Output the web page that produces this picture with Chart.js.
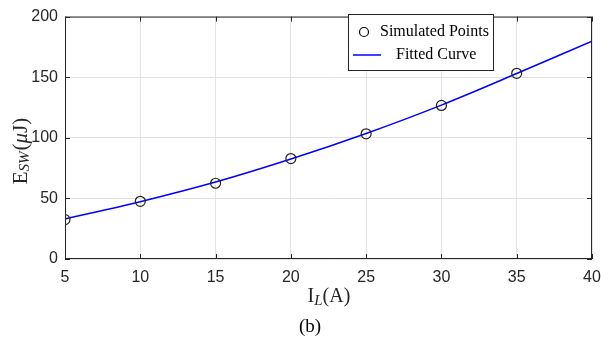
<!DOCTYPE html>
<html>
<head>
<meta charset="utf-8">
<script src="https://cdn.jsdelivr.net/npm/chart.js@4"></script>
<style>
  html, body { margin: 0; padding: 0; background: #fff; }
  #wrap { width: 613px; height: 341px; position: relative; }
</style>
</head>
<body>
<div id="wrap"><canvas id="myChart" width="613" height="341"></canvas></div>
<script>
  // Dados
  const currentA = [5, 10, 15, 20, 25, 30, 35];
  const simulated = [32.5, 47.6, 62.5, 82.9, 103.3, 126.7, 153.2];
  const fitX = [5, 10, 15, 20, 25, 30, 35, 40];
  const fitY = [33, 47.3, 63.5, 82.5, 103.6, 127, 153, 179.8];
  const xTicks = [5, 10, 15, 20, 25, 30, 35, 40];
  const yTicks = [0, 50, 100, 150, 200];

  const serif = '"Liberation Serif", "DejaVu Serif", serif';

  // desenha texto com partes (normal / itálico / subscrito)
  function drawParts(ctx, parts, x, y) {
    let cx = x;
    parts.forEach(p => {
      ctx.font = (p.italic ? 'italic ' : '') + p.size + 'px ' + serif;
      ctx.fillText(p.t, cx, y + (p.dy || 0));
      cx += ctx.measureText(p.t).width + (p.gap || 0);
    });
    return cx - x;
  }
  function measureParts(ctx, parts) {
    let w = 0;
    parts.forEach(p => {
      ctx.font = (p.italic ? 'italic ' : '') + p.size + 'px ' + serif;
      w += ctx.measureText(p.t).width + (p.gap || 0);
    });
    return w;
  }

  const matlabStyle = {
    id: 'matlabStyle',
    afterDraw(chart) {
      const ctx = chart.ctx;
      const a = chart.chartArea;
      const xs = chart.scales.x, ys = chart.scales.y;
      ctx.save();
      // caixa
      ctx.strokeStyle = '#262626';
      ctx.lineWidth = 1;
      ctx.strokeRect(a.left + 0.5, a.top + 0.5, a.right - a.left - 1, a.bottom - a.top - 1);
      // marcas internas
      ctx.beginPath();
      xTicks.forEach(v => {
        const px = Math.round(xs.getPixelForValue(v)) + 0.5;
        ctx.moveTo(px, a.bottom); ctx.lineTo(px, a.bottom - 5);
        ctx.moveTo(px, a.top); ctx.lineTo(px, a.top + 5);
      });
      yTicks.forEach(v => {
        const py = Math.round(ys.getPixelForValue(v)) + 0.5;
        ctx.moveTo(a.left, py); ctx.lineTo(a.left + 5, py);
        ctx.moveTo(a.right, py); ctx.lineTo(a.right - 5, py);
      });
      ctx.stroke();

      ctx.fillStyle = '#262626';
      ctx.textBaseline = 'middle';
      ctx.textAlign = 'left';
      // título eixo x
      const xt = [
        { t: 'I', size: 20 },
        { t: 'L', size: 15, italic: true, dy: 4 },
        { t: '(A)', size: 20 }
      ];
      const wx = measureParts(ctx, xt);
      drawParts(ctx, xt, 329 - wx / 2, 297);
      // legenda (b)
      ctx.fillStyle = '#000';
      const bt = [{ t: '(b)', size: 19 }];
      drawParts(ctx, bt, 310 - measureParts(ctx, bt) / 2, 327);

      // título eixo y
      ctx.fillStyle = '#262626';
      const yt = [
        { t: 'E', size: 21 },
        { t: 'SW', size: 15, italic: true, dy: 4, gap: 1 },
        { t: '(', size: 21 },
        { t: 'μ', size: 21, italic: true },
        { t: 'J)', size: 21 }
      ];
      const wy = measureParts(ctx, yt);
      ctx.translate(21, 151);
      ctx.rotate(-Math.PI / 2);
      drawParts(ctx, yt, -wy / 2, 0);
      ctx.setTransform(1, 0, 0, 1, 0, 0);

      // legenda
      const lx = 348, ly = 14, lw = 145, lh = 56;
      ctx.fillStyle = '#fff';
      ctx.fillRect(lx, ly, lw, lh);
      ctx.strokeStyle = '#262626';
      ctx.lineWidth = 1;
      ctx.strokeRect(lx + 0.5, ly + 0.5, lw, lh);
      ctx.strokeStyle = '#000';
      ctx.lineWidth = 1.2;
      ctx.beginPath();
      ctx.arc(364, 32, 4.5, 0, Math.PI * 2);
      ctx.stroke();
      ctx.strokeStyle = '#0000ff';
      ctx.lineWidth = 1.5;
      ctx.beginPath();
      ctx.moveTo(353, 55); ctx.lineTo(381, 55);
      ctx.stroke();
      ctx.fillStyle = '#000';
      drawParts(ctx, [{ t: 'Simulated Points', size: 16 }], 380, 32);
      drawParts(ctx, [{ t: 'Fitted Curve', size: 16 }], 396, 55);
      ctx.restore();
    }
  };

  const ctx = document.getElementById('myChart');
  const myChart = new Chart(ctx, {
    type: 'scatter',
    data: {
      datasets: [
        {
          label: 'Fitted Curve',
          data: fitX.map((x, i) => ({ x: x, y: fitY[i] })),
          showLine: true,
          borderColor: '#0000ff',
          borderWidth: 1.5,
          pointRadius: 0,
          cubicInterpolationMode: 'monotone',
          order: 2
        },
        {
          label: 'Simulated Points',
          data: currentA.map((x, i) => ({ x: x, y: simulated[i] })),
          showLine: false,
          borderColor: '#222',
          backgroundColor: 'rgba(0,0,0,0)',
          borderWidth: 1.2,
          pointRadius: 5,
          order: 1
        }
      ]
    },
    options: {
      responsive: false,
      animation: false,
      devicePixelRatio: 1,
      layout: { padding: { left: 0, right: 21, top: 8, bottom: 0 } },
      scales: {
        x: {
          type: 'linear',
          min: 5, max: 40,
          afterBuildTicks: s => { s.ticks = xTicks.map(v => ({ value: v })); },
          afterFit: s => { s.height = 82; },
          grid: { color: '#e3e3e3', drawTicks: false },
          border: { display: false },
          ticks: { color: '#262626', padding: 9, maxRotation: 0, font: { family: '"Liberation Sans", Arial, sans-serif', size: 16 } }
        },
        y: {
          min: 0, max: 200,
          afterBuildTicks: s => { s.ticks = yTicks.map(v => ({ value: v })); },
          afterFit: s => { s.width = 65; },
          grid: { color: '#e3e3e3', drawTicks: false },
          border: { display: false },
          ticks: { color: '#262626', padding: 7, font: { family: '"Liberation Sans", Arial, sans-serif', size: 16 } }
        }
      },
      plugins: {
        legend: { display: false },
        tooltip: { enabled: false }
      }
    },
    plugins: [matlabStyle]
  });
</script>
</body>
</html>
